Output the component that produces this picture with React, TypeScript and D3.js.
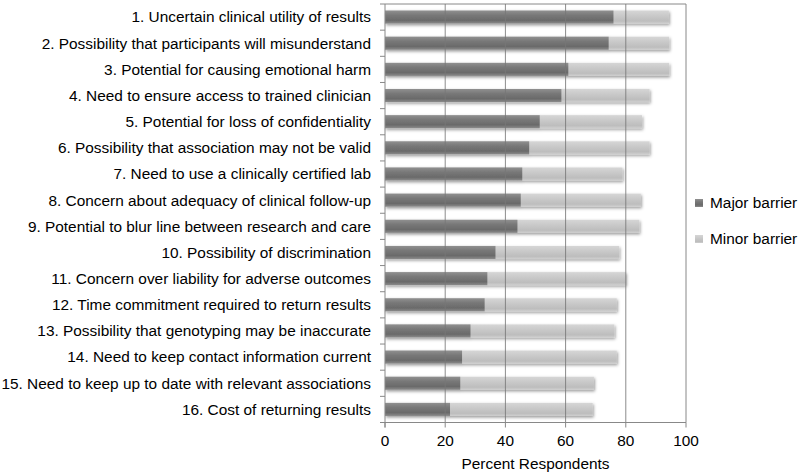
import React from "react";
import * as d3 from "d3";

const categories = [
  "1. Uncertain clinical utility of results",
  "2. Possibility that participants will misunderstand",
  "3. Potential for causing emotional harm",
  "4. Need to ensure access to trained clinician",
  "5. Potential for loss of confidentiality",
  "6. Possibility that association may not be valid",
  "7. Need to use a clinically certified lab",
  "8. Concern about adequacy of clinical follow-up",
  "9. Potential to blur line between research and care",
  "10. Possibility of discrimination",
  "11. Concern over liability for adverse outcomes",
  "12. Time commitment required to return results",
  "13. Possibility that genotyping may be inaccurate",
  "14. Need to keep contact information current",
  "15. Need to keep up to date with relevant associations",
  "16. Cost of returning results",
];
const majorBarrier = [75.9, 74.3, 60.9, 58.6, 51.4, 47.9, 45.6, 45.1, 44.0, 36.7, 34.0, 33.1, 28.4, 25.6, 25.0, 21.6];
const minorBarrier = [18.4, 20.1, 33.5, 29.3, 34.0, 40.0, 33.3, 39.9, 40.5, 41.1, 46.0, 43.9, 47.8, 51.4, 44.4, 47.4];
const xTicks = [0, 20, 40, 60, 80, 100];
const seriesNames = ["Major barrier", "Minor barrier"];

export default function App() {
  const W = 800, H = 474;
  const left = 385, right = 686, top = 4, bottom = 422.5;
  const x = d3.scaleLinear().domain([0, 100]).range([left, right]);
  const y = d3.scaleBand<string>().domain(categories).range([top, bottom]).paddingInner(0.5).paddingOuter(0.25);
  const band = d3.scaleBand<string>().domain(categories).range([top, bottom]);
  const font = "Liberation Sans, Arial, sans-serif";
  const fs = 15.4;
  return (
    <svg width={W} height={H} style={{ position: "absolute", left: 0, top: 0, background: "#fff" }}>
      <defs>
        <linearGradient id="gMajor" x1="0" y1="0" x2="0" y2="1">
          <stop offset="0" stopColor="#909090" />
          <stop offset="0.35" stopColor="#787878" />
          <stop offset="0.75" stopColor="#6a6a6a" />
          <stop offset="1" stopColor="#8c8c8c" />
        </linearGradient>
        <linearGradient id="gMinor" x1="0" y1="0" x2="0" y2="1">
          <stop offset="0" stopColor="#d6d6d6" />
          <stop offset="0.4" stopColor="#c9c9c9" />
          <stop offset="0.8" stopColor="#bdbdbd" />
          <stop offset="1" stopColor="#cfcfcf" />
        </linearGradient>
        <filter id="shadow" x="-5%" y="-50%" width="110%" height="200%">
          <feDropShadow dx="1" dy="1.5" stdDeviation="1.4" floodColor="#000" floodOpacity="0.4" />
        </filter>
      </defs>
      {/* frame */}
      <line x1={left} x2={right} y1={top} y2={top} stroke="#888" strokeWidth={1} />
      <line x1={right} x2={right} y1={top} y2={bottom} stroke="#888" strokeWidth={1} />
      {/* bars */}
      {categories.map((c, i) => {
        const yy = y(c)!;
        const h = y.bandwidth();
        return (
          <g key={c} filter="url(#shadow)">
            <rect x={x(0)} y={yy} width={x(majorBarrier[i] + minorBarrier[i]) - x(0)} height={h} fill="url(#gMinor)" />
            <rect x={x(0)} y={yy} width={x(majorBarrier[i]) - x(0)} height={h} fill="url(#gMajor)" />
          </g>
        );
      })}
      {/* gridlines */}
      {xTicks.slice(1, -1).map((t) => (
        <line key={t} x1={x(t)} x2={x(t)} y1={top} y2={bottom} stroke="#777" strokeWidth={1} opacity={0.85} />
      ))}
      {/* axes */}
      <line x1={left} x2={left} y1={top} y2={bottom + 5} stroke="#888" strokeWidth={1} />
      <line x1={left} x2={right} y1={bottom} y2={bottom} stroke="#888" strokeWidth={1} />
      {categories.map((c) => (
        <line key={"t" + c} x1={left - 5} x2={left} y1={band(c)!} y2={band(c)!} stroke="#888" />
      ))}
      <line x1={left - 5} x2={left} y1={bottom} y2={bottom} stroke="#888" />
      {xTicks.map((t) => (
        <g key={"x" + t}>
          <line x1={x(t)} x2={x(t)} y1={bottom} y2={bottom + 5} stroke="#888" />
          <text x={x(t)} y={446} textAnchor="middle" fontFamily={font} fontSize={fs} fill="#000">{t}</text>
        </g>
      ))}
      <text x={x(50)} y={469} textAnchor="middle" fontFamily={font} fontSize={fs} fill="#000">Percent Respondents</text>
      {categories.map((c) => (
        <text key={"l" + c} x={371} y={band(c)! + band.bandwidth() / 2} dy="0.35em" textAnchor="end" fontFamily={font} fontSize={fs} fill="#000">{c}</text>
      ))}
      {/* legend */}
      {seriesNames.map((s, i) => (
        <g key={s}>
          <rect x={695} y={199 + i * 36} width={8} height={8} fill={i === 0 ? "url(#gMajor)" : "url(#gMinor)"} />
          <text x={710} y={203 + i * 36} dy="0.35em" fontFamily={font} fontSize={fs} fill="#000">{s}</text>
        </g>
      ))}
    </svg>
  );
}
